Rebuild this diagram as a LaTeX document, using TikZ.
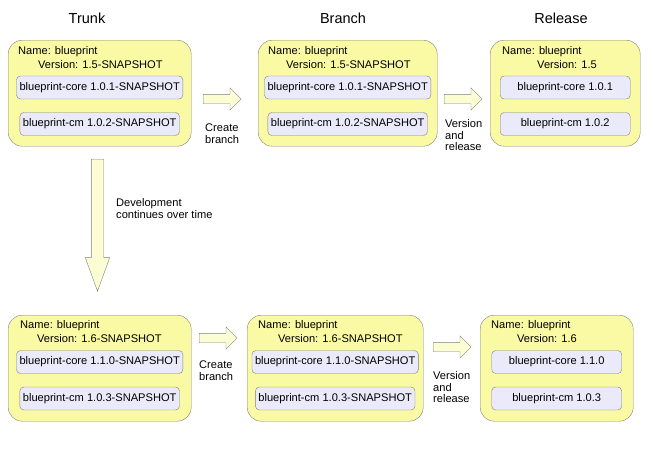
\documentclass[tikz,border=0pt]{standalone}
\usepackage{fontspec}
\setmainfont{Liberation Sans}
\usetikzlibrary{shapes.arrows, positioning}

\definecolor{projyellow}{RGB}{250,250,165}
\definecolor{flowyellow}{RGB}{253,253,212}
\definecolor{modlilac}{RGB}{234,234,250}
\definecolor{edgegray}{RGB}{128,128,128}

\begin{document}
\begin{tikzpicture}[%
	x=1pt, y=-1pt,
	every node/.style={font=\fontsize{11.1}{11.8}\selectfont},
	]
	% -------------------------------------------------
	% Box styles
	\tikzset{
		proj/.style={draw=edgegray, fill=projyellow, rounded corners=14pt, anchor=north west,
			minimum height=106pt, inner sep=0pt},
		module/.style={draw=edgegray, fill=modlilac, rounded corners=4pt, minimum height=23pt,
			inner xsep=3pt, inner ysep=0pt},
		relmodule/.style={module, minimum width=130pt},
		txt/.style={inner sep=0pt, anchor=west},
		% block arrows between the boxes
		flow/.style={single arrow, draw=edgegray, fill=flowyellow, anchor=tail, inner sep=4.5pt,
			single arrow head extend=6.5pt, minimum height=38pt},
		note/.style={inner sep=0pt, anchor=north west, align=left},
		title/.style={font=\fontsize{14.5}{16}\selectfont}
	}
	\useasboundingbox (0,0) rectangle (653,448);

	% titles
	\node[title] (ttrunk) at (87,18) {Trunk};
	\node[title] (tbranch) at (343,18) {Branch};
	\node[title] (trelease) at (561,18) {Release};

	% ------------------------------------------------- top row
	\node[proj, minimum width=183pt] (trunk15) at (8,40) {};
	\node[txt] (trunk15name) at ([xshift=10pt, yshift=-12pt]trunk15.north west) {Name: blueprint};
	\node[txt] (trunk15ver) at ([xshift=20pt, yshift=-12.5pt]trunk15name.west) {Version: 1.5-SNAPSHOT};
	\node[module] (trunk15core) at ([yshift=-47.5pt]trunk15.north) {blueprint-core 1.0.1-SNAPSHOT};
	\node[module] (trunk15cm) at ([yshift=-84pt]trunk15.north) {blueprint-cm 1.0.2-SNAPSHOT};

	\node[proj, minimum width=179pt] (branch15) at (258,40) {};
	\node[txt] (branch15name) at ([xshift=10pt, yshift=-12pt]branch15.north west) {Name: blueprint};
	\node[txt] (branch15ver) at ([xshift=18pt, yshift=-12.5pt]branch15name.west) {Version: 1.5-SNAPSHOT};
	\node[module] (branch15core) at ([yshift=-47.5pt]branch15.north) {blueprint-core 1.0.1-SNAPSHOT};
	\node[module] (branch15cm) at ([yshift=-84pt]branch15.north) {blueprint-cm 1.0.2-SNAPSHOT};

	\node[proj, minimum width=150pt] (rel15) at (490,40) {};
	\node[txt] (rel15name) at ([xshift=12pt, yshift=-12pt]rel15.north west) {Name: blueprint};
	\node[txt] (rel15ver) at ([xshift=35pt, yshift=-12.5pt]rel15name.west) {Version: 1.5};
	\node[relmodule] (rel15core) at ([yshift=-47.5pt]rel15.north) {blueprint-core 1.0.1};
	\node[relmodule] (rel15cm) at ([yshift=-84pt]rel15.north) {blueprint-cm 1.0.2};

	\node[flow] (mkbranch15) at (203,99) {};
	\node[note] (mkbranch15txt) at (205,124) {Create\\branch};
	\node[flow] (mkrel15) at (444,99) {};
	\node[note] (mkrel15txt) at (445,119) {Version\\and\\release};

	% ------------------------------------------------- development
	\node[flow, shape border rotate=270, minimum height=132pt, inner sep=6pt,
		single arrow head extend=6pt, single arrow tip angle=40] (devel) at (97.5,159) {};
	\node[note] (develtxt) at (116,198) {Development\\continues over time};

	% ------------------------------------------------- bottom row
	\node[proj, minimum width=183pt] (trunk16) at (8,315) {};
	\node[txt] (trunk16name) at ([xshift=12pt, yshift=-11pt]trunk16.north west) {Name: blueprint};
	\node[txt] (trunk16ver) at ([xshift=17pt, yshift=-12.5pt]trunk16name.west) {Version: 1.6-SNAPSHOT};
	\node[module] (trunk16core) at ([yshift=-47pt]trunk16.north) {blueprint-core 1.1.0-SNAPSHOT};
	\node[module] (trunk16cm) at ([yshift=-83.5pt]trunk16.north) {blueprint-cm 1.0.3-SNAPSHOT};

	\node[proj, minimum width=176pt] (branch16) at (247,315) {};
	\node[txt] (branch16name) at ([xshift=11pt, yshift=-11pt]branch16.north west) {Name: blueprint};
	\node[txt] (branch16ver) at ([xshift=20pt, yshift=-12.5pt]branch16name.west) {Version: 1.6-SNAPSHOT};
	\node[module] (branch16core) at ([yshift=-47pt]branch16.north) {blueprint-core 1.1.0-SNAPSHOT};
	\node[module] (branch16cm) at ([yshift=-83.5pt]branch16.north) {blueprint-cm 1.0.3-SNAPSHOT};

	\node[proj, minimum width=153pt] (rel16) at (480,315) {};
	\node[txt] (rel16name) at ([xshift=11pt, yshift=-11pt]rel16.north west) {Name: blueprint};
	\node[txt] (rel16ver) at ([xshift=26pt, yshift=-12.5pt]rel16name.west) {Version: 1.6};
	\node[relmodule] (rel16core) at ([yshift=-47pt]rel16.north) {blueprint-core 1.1.0};
	\node[relmodule] (rel16cm) at ([yshift=-83.5pt]rel16.north) {blueprint-cm 1.0.3};

	\node[flow] (mkbranch16) at (199,338) {};
	\node[note] (mkbranch16txt) at (199,361) {Create\\branch};
	\node[flow] (mkrel16) at (433,347) {};
	\node[note] (mkrel16txt) at (433,371) {Version\\and\\release};

\end{tikzpicture}
\end{document}
